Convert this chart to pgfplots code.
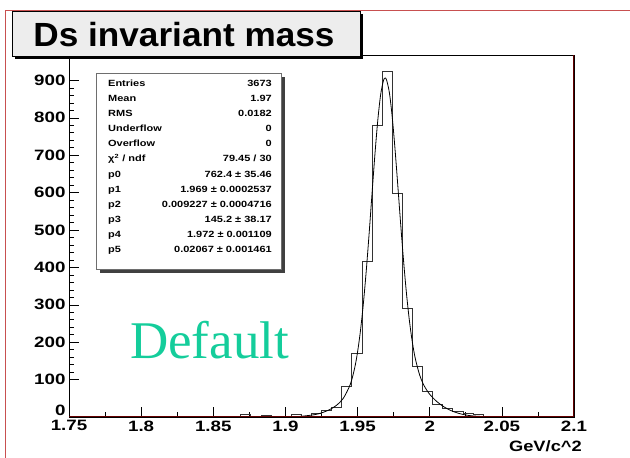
\documentclass[border=0pt]{standalone}
\usepackage{pgfplots}
\pgfplotsset{compat=1.18}
\usepackage{fontspec}
\setmainfont{Liberation Sans}
\newfontfamily\serif{Liberation Serif}
\definecolor{maroon}{RGB}{100,0,0}
\definecolor{canvasred}{RGB}{200,80,80}
\definecolor{deftext}{RGB}{20,205,155}
\definecolor{boxgray}{RGB}{110,110,110}
\newcommand{\tl}[1]{\scalebox{1.25}[1]{\bfseries #1}}
\newcommand{\st}[1]{\scalebox{1.22}[1]{\bfseries #1}}
\begin{document}
\begin{tikzpicture}[x=1pt,y=1pt]
\path[use as bounding box] (0,0) rectangle (630,458);
\draw[canvasred, line width=0.8pt] (5,0) -- (5,448) -- (630,448);
\begin{axis}[
  at={(69pt,41pt)}, anchor=south west,
  width=505pt, height=362pt, scale only axis,
  xmin=1.75, xmax=2.1, ymin=0, ymax=968,
  xtick={1.75,1.8,1.85,1.9,1.95,2,2.05,2.1},
  xticklabels={\tl{1.75},\tl{1.8},\tl{1.85},\tl{1.9},\tl{1.95},\tl{2},\tl{2.05},\tl{2.1}},
  ytick={100,200,300,400,500,600,700,800,900},
  yticklabels={\tl{100},\tl{200},\tl{300},\tl{400},\tl{500},\tl{600},\tl{700},\tl{800},\tl{900}},
  extra y ticks={0},
  extra y tick labels={\tl{0}},
  extra y tick style={yticklabel style={yshift=6.5pt}},
  minor x tick num=1, minor y tick num=4,
  tick align=inside, tick pos=left,
  major tick length=10pt, minor tick length=5pt,
  every tick/.style={black, line width=0.6pt},
  ticklabel style={font=\fontsize{15}{15}\selectfont},
  axis line style={black, line width=0.8pt},
  /pgf/number format/assume math mode=true,
]
\addplot[const plot, black!80, line width=0.7pt] coordinates {
(1.750,0) (1.757,0) (1.764,0) (1.771,0) (1.778,0) (1.785,0) (1.792,0) (1.799,0)
(1.806,0) (1.813,0) (1.820,0) (1.827,0) (1.834,0) (1.841,0) (1.848,0)
(1.855,1) (1.862,1) (1.869,6) (1.876,2) (1.883,5) (1.890,2) (1.897,1) (1.904,7)
(1.911,2) (1.918,9) (1.925,17) (1.932,26) (1.939,81) (1.946,169) (1.953,416)
(1.960,780) (1.967,925) (1.974,599) (1.981,291) (1.988,135) (1.995,68)
(2.002,35) (2.009,22) (2.016,14) (2.023,9) (2.030,6) (2.037,3) (2.044,3)
(2.051,2) (2.058,1) (2.065,1) (2.072,1) (2.079,1) (2.086,0) (2.093,1) (2.100,1)
};
\addplot[smooth, black, line width=0.8pt] coordinates {
(1.880,0.0) (1.900,0.34) (1.910,1.6) (1.920,6.1) (1.925,11.0) (1.930,18.5)
(1.935,30.1) (1.940,49.3) (1.945,87.8) (1.948,131.2) (1.950,174.0) (1.952,230.6)
(1.954,302.8) (1.956,390.2) (1.958,490.0) (1.960,596.5) (1.962,700.9)
(1.964,793.0) (1.966,862.4) (1.968,900.4) (1.969,906.1) (1.970,902.4)
(1.972,868.4) (1.974,802.8) (1.976,714.2) (1.978,613.0) (1.980,509.3)
(1.982,411.8) (1.984,326.1) (1.986,255.1) (1.988,199.2) (1.990,156.6)
(1.993,112.6) (1.996,84.5) (2.000,60.7) (2.005,41.0) (2.010,26.8)
(2.015,16.7) (2.020,9.8) (2.025,5.4) (2.030,2.8) (2.040,0.65) (2.050,0.12) (2.060,0.02)
};
\draw[maroon, line width=1.4pt] (rel axis cs:0,0) -- (rel axis cs:1,0) -- (rel axis cs:1,1);
\end{axis}
% x axis title
\node[anchor=base east, inner sep=0, font=\fontsize{15}{15}\selectfont] at (582,6.5) {\st{GeV/c\textasciicircum 2}};
% title box
\fill[black] (14.5,398.8) rectangle (362.5,443.8);
\draw[black, line width=0.8pt, fill=black!7] (12,401.3) rectangle (360,446.3);
\node[anchor=base, inner sep=0, font=\fontsize{33.5}{33.5}\selectfont\bfseries] at (184,411.3) {\scalebox{1.05}[1]{Ds invariant mass}};
% stats box
\fill[black!75] (99.7,185) rectangle (284.7,381);
\draw[boxgray, line width=1pt, fill=white] (96.7,188) rectangle (281.7,384);
\begin{scope}[every node/.style={inner sep=0, font=\fontsize{9}{9}\selectfont}]
\foreach \i/\l/\v in {0/Entries/3673, 1/Mean/1.97, 2/RMS/0.0182, 3/Underflow/0, 4/Overflow/0,
  5/{χ\textsuperscript{2} / ndf}/{79.45 / 30}, 6/p0/{762.4 ± 35.46}, 7/p1/{1.969 ± 0.0002537},
  8/p2/{0.009227 ± 0.0004716}, 9/p3/{145.2 ± 38.17}, 10/p4/{1.972 ± 0.001109},
  11/p5/{0.02067 ± 0.001461}} {
  \node[anchor=base west] at (108,371.4-15.08*\i) {\st{\l}};
  \node[anchor=base east] at (272,371.4-15.08*\i) {\st{\v}};
}
\end{scope}
% Default label
\node[anchor=base west, inner sep=0, text=deftext, font=\serif\fontsize{53}{53}\selectfont] at (130,99.7) {Default};
\end{tikzpicture}
\end{document}
